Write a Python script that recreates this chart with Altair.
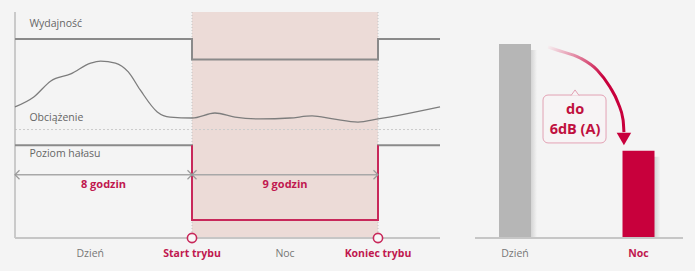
import altair as alt
import pandas as pd

# ---------------- data: left panel (timeline in hours) ----------------
mode_start = 8        # silent mode starts (hour)
mode_end = 17         # silent mode ends (hour)
day_end = 20          # end of drawn timeline (hour)

perf_hours = [0, 8, 17, 20]
perf_level = [88, 79, 88, 88]

load_hours = [0, 0.85, 1.62, 2.52, 3.42, 3.87, 4.54, 5.12, 5.66, 6.43, 7.01, 8,
              9.11, 10.08, 11.29, 12.74, 13.81, 14.82, 16.03, 17, 18.06, 20]
load_level = [58.0, 62.4, 69.5, 72.6, 77.4, 78.3, 77.4, 73.5, 65.5, 55.8, 53.5, 53.1,
              55.3, 53.5, 52.7, 53.1, 54.0, 52.7, 51.3, 52.7, 54.4, 58.0]
load_ref = 48

noise_hours = [0, 8, 17, 20]
noise_level = [41, 8, 41, 41]

series_names = ["Wydajność", "Obciążenie", "Poziom hałasu"]
series_label_level = [94.5, 53, 37]

durations = ["8 godzin", "9 godzin"]
duration_start = [0, 8]
duration_end = [8, 17]

time_labels = ["Dzień", "Noc"]
time_label_hours = [3.4, 12.5]
mode_labels = ["Start trybu", "Koniec trybu"]
mode_hours = [8, 17]

# ---------------- data: right panel ----------------
bar_categories = ["Dzień", "Noc"]
bar_noise = [100, 45]
reduction_text = ["do", "6dB (A)"]
arc_u = [35.1, 39.4, 50.5, 58.7, 64.9, 68.8, 71.2, 71.6]
arc_v = [98.5, 96.9, 92.8, 86.6, 77.8, 69.6, 60.8, 54.6]

# ---------------- styles ----------------
BG = "#f4f4f4"
RED = "#c8003c"
RED_T = "#c0184f"
GRAY_L = "#8a8a8a"
FONT = "Open Sans"

XL = alt.Scale(domain=[0, mode_start, mode_end, day_end], range=[15, 192, 378, 440])
YL = alt.Scale(domain=[0, 100], range=[238, 12])
XB = alt.Scale(domain=bar_categories, range=[499, 654.5], paddingInner=0.741, paddingOuter=0)
YR = alt.Scale(domain=[0, 100], range=[238, 44])
XA = alt.Scale(domain=[0, 100], range=[475, 683])


def xl(f):
    return alt.X(f, type="quantitative", scale=XL, axis=None)


def yl(f):
    return alt.Y(f, type="quantitative", scale=YL, axis=None)


# ---------------- left panel ----------------
shade_df = pd.DataFrame({"s": [mode_start], "e": [mode_end], "lo": [0], "hi": [100]})
shade = alt.Chart(shade_df).mark_rect(fill="#ecdbd7").encode(
    x=xl("s"), x2="e", y=yl("lo"), y2="hi")

vlines_df = pd.DataFrame({"h": [mode_start, mode_end], "lo": [0, 0], "hi": [100, 100]})
vlines = alt.Chart(vlines_df).mark_rule(color="#c4c4c4", strokeDash=[1, 2], strokeWidth=1).encode(
    x=xl("h"), y=yl("lo"), y2="hi")

vaxis = alt.Chart(pd.DataFrame({"h": [0], "lo": [0], "hi": [100]})).mark_rule(
    color="#bdbdbd", strokeWidth=1.5).encode(x=xl("h"), y=yl("lo"), y2="hi")
haxis = alt.Chart(pd.DataFrame({"a": [0], "b": [day_end], "lv": [0]})).mark_rule(
    color="#c6c6c6", strokeWidth=2).encode(x=xl("a"), x2="b", y=yl("lv"))
ref = alt.Chart(pd.DataFrame({"a": [0], "b": [day_end], "lv": [load_ref]})).mark_rule(
    color="#cccccc", strokeWidth=1, strokeDash=[2, 2]).encode(x=xl("a"), x2="b", y=yl("lv"))

perf = alt.Chart(pd.DataFrame({"h": perf_hours, "v": perf_level})).mark_line(
    color=GRAY_L, strokeWidth=2, interpolate="step-after").encode(x=xl("h"), y=yl("v"))

load = alt.Chart(pd.DataFrame({"h": load_hours, "v": load_level})).mark_line(
    color="#7d7d7d", strokeWidth=1.3, interpolate="monotone").encode(x=xl("h"), y=yl("v"))

noise = alt.Chart(pd.DataFrame({"h": noise_hours, "v": noise_level})).mark_line(
    color=GRAY_L, strokeWidth=2, interpolate="step-after").encode(x=xl("h"), y=yl("v"))
noise_mode_df = pd.DataFrame({
    "h": [mode_start, mode_start, mode_end],
    "v": [noise_level[0], noise_level[1], noise_level[2]],
    "o": [0, 1, 2]})
noise_mode = alt.Chart(noise_mode_df).mark_line(
    color="#c8285a", strokeWidth=2, interpolate="step-after").encode(
    x=xl("h"), y=yl("v"), order="o:Q")

dur_df = pd.DataFrame({"t": durations, "s": duration_start, "e": duration_end})
dur_df["m"] = (dur_df["s"] + dur_df["e"]) / 2
dur_df["lv"] = 28
dur_df["tv"] = 23.5
dur_rules = alt.Chart(dur_df).mark_rule(color="#a8a8a8", strokeWidth=1.5).encode(
    x=xl("s"), x2="e", y=yl("lv"))
chev_l = alt.Chart(dur_df).mark_point(
    shape="M1,-1L0,0L1,1", filled=False, size=81, stroke="#9a9a9a", strokeWidth=1.2, opacity=1).encode(
    x=xl("s"), y=yl("lv"))
chev_r = alt.Chart(dur_df).mark_point(
    shape="M-1,-1L0,0L-1,1", filled=False, size=81, stroke="#9a9a9a", strokeWidth=1.2, opacity=1).encode(
    x=xl("e"), y=yl("lv"))
dur_text = alt.Chart(dur_df).mark_text(
    font=FONT, fontSize=11, fontWeight="bold", color=RED_T).encode(
    x=xl("m"), y=yl("tv"), text="t:N")

lab_df = pd.DataFrame({"t": series_names, "v": series_label_level, "h": [0.65] * 3})
series_text = alt.Chart(lab_df).mark_text(
    font=FONT, fontSize=10.5, color="#666666", align="left").encode(
    x=xl("h"), y=yl("v"), text="t:N")

circ_df = pd.DataFrame({"h": mode_hours, "v": [0, 0]})
circles = alt.Chart(circ_df).mark_point(
    shape="circle", size=85, filled=True, fill="#f7f7f7", stroke="#c8285a", strokeWidth=1.6, opacity=1).encode(
    x=xl("h"), y=yl("v"))

tl_df = pd.DataFrame({"t": time_labels, "h": time_label_hours, "v": [0, 0]})
time_text = alt.Chart(tl_df).mark_text(
    font=FONT, fontSize=10.5, color="#777777", dy=16).encode(x=xl("h"), y=yl("v"), text="t:N")
ml_df = pd.DataFrame({"t": mode_labels, "h": mode_hours, "v": [0, 0]})
mode_text = alt.Chart(ml_df).mark_text(
    font=FONT, fontSize=10.5, fontWeight="bold", color=RED_T, dy=16).encode(
    x=xl("h"), y=yl("v"), text="t:N")

left = alt.layer(shade, vlines, ref, vaxis, haxis, perf, load, noise, noise_mode,
                 dur_rules, chev_l, chev_r, dur_text, series_text, circles, time_text, mode_text)

# ---------------- right panel: bars ----------------
bars_df = pd.DataFrame({"c": bar_categories, "v": bar_noise, "z": [0, 0]})
xb = alt.X("c:N", scale=XB, axis=None, sort=bar_categories)
yb = alt.Y("v:Q", scale=YR, axis=None)
shadow = alt.Chart(bars_df).mark_bar(
    xOffset=6, yOffset=6, y2Offset=0.01,
    fill=alt.Gradient(gradient="linear", x1=0, y1=0, x2=1, y2=0,
                      stops=[alt.GradientStop(color="#d2d2d2", offset=0.8),
                             alt.GradientStop(color=BG, offset=1)])).encode(x=xb, y=yb, y2="z:Q")
bars = alt.Chart(bars_df).mark_bar().encode(
    x=xb, y=yb,
    color=alt.Color("c:N", scale=alt.Scale(domain=bar_categories, range=["#b6b6b6", RED]), legend=None))
bar_lab_day = alt.Chart(bars_df).transform_filter(alt.datum.c == bar_categories[0]).mark_text(
    font=FONT, fontSize=10.5, color="#777777", dy=16).encode(
    x=xb, y=alt.Y("z:Q", scale=YR, axis=None), text="c:N")
bar_lab_night = alt.Chart(bars_df).transform_filter(alt.datum.c == bar_categories[1]).mark_text(
    font=FONT, fontSize=10.5, fontWeight="bold", color=RED_T, dy=16).encode(
    x=xb, y=alt.Y("z:Q", scale=YR, axis=None), text="c:N")
right_bars = alt.layer(shadow, bars, bar_lab_day, bar_lab_night)

# ---------------- right panel: annotation ----------------
def xa(f):
    return alt.X(f, type="quantitative", scale=XA, axis=None)


def ya(f):
    return alt.Y(f, type="quantitative", scale=YR, axis=None)


baseline = alt.Chart(pd.DataFrame({"a": [0], "b": [100], "lv": [0]})).mark_rule(
    color="#c6c6c6", strokeWidth=2).encode(x=xa("a"), x2="b", y=ya("lv"))

arc = alt.Chart(pd.DataFrame({"u": arc_u, "v": arc_v})).mark_line(
    strokeWidth=3, interpolate="monotone",
    stroke=alt.Gradient(gradient="linear", x1=0, y1=0, x2=1, y2=1,
                        stops=[alt.GradientStop(color="#f6eef0", offset=0),
                               alt.GradientStop(color=RED, offset=0.55)])).encode(
    x=xa("u"), y=ya("v"))
head = alt.Chart(pd.DataFrame({"u": [arc_u[-1]], "v": [51.0]})).mark_point(
    shape="triangle-down", size=210, filled=True, color=RED, opacity=1).encode(
    x=xa("u"), y=ya("v"))

box = alt.Chart(pd.DataFrame({"a": [32.7], "b": [63.0], "lo": [49.0], "hi": [73.7]})).mark_rect(
    fill="#f7f4f5", stroke="#e3a2b4", strokeWidth=1, cornerRadius=5).encode(
    x=xa("a"), x2="b", y=ya("lo"), y2="hi")
notch = alt.Chart(pd.DataFrame({"u": [48.1], "v": [75.5]})).mark_point(
    shape="M-1,1L0,-0.4L1,1", filled=True, fill="#f7f4f5", stroke="#e3a2b4", strokeWidth=1,
    size=64, opacity=1).encode(x=xa("u"), y=ya("v"))
box_text = alt.Chart(pd.DataFrame({"t": reduction_text, "u": [48.1, 48.1], "v": [66.0, 55.7]})).mark_text(
    font=FONT, fontSize=14.5, fontWeight="bold", color="#c0103f").encode(
    x=xa("u"), y=ya("v"), text="t:N")
right_anno = alt.layer(baseline, arc, head, box, notch, box_text)

chart = alt.layer(left, right_bars, right_anno).resolve_scale(
    x="independent", y="independent", color="independent"
).properties(
    width=695, height=271, autosize=alt.AutoSizeParams(type="none"), padding=0, background=BG
).configure_view(stroke=None)

chart.save("out.html", embed_options={"renderer": "svg", "actions": False})
